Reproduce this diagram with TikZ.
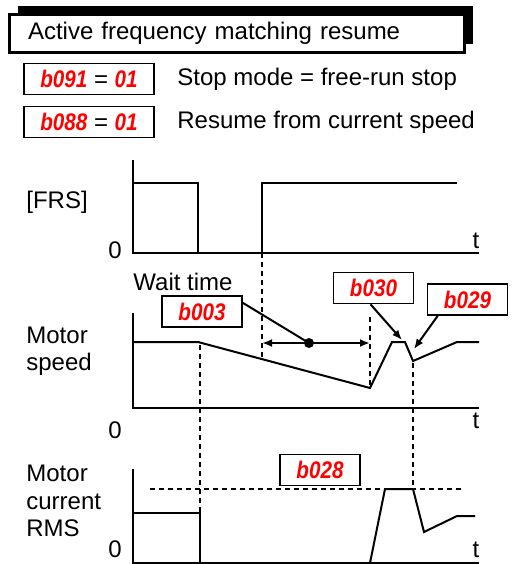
\documentclass[tikz,border=0pt]{standalone}
\usepackage{fontspec}
\setmainfont{Liberation Sans}
\newfontfamily\segfont[FakeStretch=0.86]{Liberation Sans}
\usetikzlibrary{positioning, arrows.meta, shadows}
\definecolor{segred}{RGB}{255,0,0}
\newcommand{\segcode}[1]{\textcolor{segred}{\segfont\bfseries\itshape #1}}

\begin{document}
\begin{tikzpicture}[x=0.5pt, y=-0.5pt,
    font=\fontsize{12}{13.7}\selectfont,
    >={Latex[length=5pt, width=4pt]},
    titlebox/.style={draw, fill=white, line width=1.5pt, inner xsep=9.5pt,
      text width=208.5pt, minimum height=19pt, align=left,
      drop shadow={shadow xshift=4.25pt, shadow yshift=4.25pt, fill=black, opacity=1}},
    codebox/.style={draw, line width=0.8pt, fill=white, minimum width=40pt,
      minimum height=15.5pt, inner sep=0pt},
    txt/.style={inner sep=0pt, anchor=west, align=left},
    tick/.style={inner sep=0pt, anchor=base},
    axis/.style={line width=1pt},
    signal/.style={line width=1pt},
    guide/.style={line width=0.65pt, dash pattern=on 2.5pt off 2pt}
]
\useasboundingbox (0,0) rectangle (518,564);

% Title
\node[titlebox] (title) at (236.5,33) {Active frequency matching resume};

% Parameter settings
\node[codebox, minimum width=65pt] (stopcode) at (89,79) {\segcode{b091} = \segcode{01}};
\node[txt] (stoptext) at (177,79) {Stop mode = free-run stop};
\node[codebox, minimum width=65pt] (resumecode) at (89,122) {\segcode{b088} = \segcode{01}};
\node[txt] (resumetext) at (177,122) {Resume from current speed};

% FRS input
\draw[axis] (133,160) -- (133,253) -- (479,253);
\draw[signal] (133,183) -- (198,183) -- (198,253);
\draw[signal] (262,253) -- (262,183) -- (457,183);
\node[txt] (frslbl) at (26,202) {[FRS]};
\node[tick] (frszero) at (115,258) {0};
\node[tick] (frst) at (476,248) {t};

% Motor speed
\draw[axis] (133,313) -- (133,408) -- (479,408);
\draw[signal] (133,342) -- (198,342) -- (370,388) -- (392,342) -- (405,342)
  -- (413,361) -- (457,342) -- (479,342);
\node[txt] (speedlbl) at (26,351) {Motor\\speed};
\node[tick] (speedzero) at (115,438) {0};
\node[tick] (speedt) at (476,428) {t};

% Motor current
\draw[axis] (133,469) -- (133,563) -- (479,563);
\draw[signal] (133,513) -- (200,513) -- (200,563);
\draw[signal] (370,563) -- (385,489) -- (413,489) -- (424,532) -- (457,516) -- (475,516);
\node[txt] (currentlbl) at (26,501) {Motor\\current\\RMS};
\node[tick] (currentzero) at (115,557) {0};
\node[tick] (currentt) at (476,557) {t};

% Timing guides
\draw[guide] (262,253) -- (262,359);
\draw[guide] (200,345) -- (200,512);
\draw[guide] (370,317) -- (370,388);
\draw[guide] (413,363) -- (413,488);
\draw[guide] (150,489) -- (463,489);

% Wait time
\node[txt] (waitlbl) at (133,282) {Wait time};
\coordinate (waitL) at (262,343);
\coordinate (waitR) at (370,343);
\coordinate (waitdot) at (309,343);
\draw[signal, <->] (waitL) -- (waitR);
\fill (waitdot) circle (2.5pt);
\node[codebox] (waitcode) at (202,311.5) {\segcode{b003}};
\draw[signal] (waitcode.12) -- (waitdot);

% Acceleration and limit callouts
\node[codebox] (accelcode) at (373.5,288) {\segcode{b030}};
\coordinate (peak) at (402,340);
\draw[signal, ->] ([xshift=-1.5pt]accelcode.south) -- (peak);
\node[codebox] (limitcode) at (467.5,299.5) {\segcode{b029}};
\coordinate (dip) at (414,349);
\draw[signal, ->] ([xshift=5.5pt]limitcode.south west) -- (dip);

% Current limit level
\node[codebox] (levelcode) at (320,470) {\segcode{b028}};
\end{tikzpicture}
\end{document}
